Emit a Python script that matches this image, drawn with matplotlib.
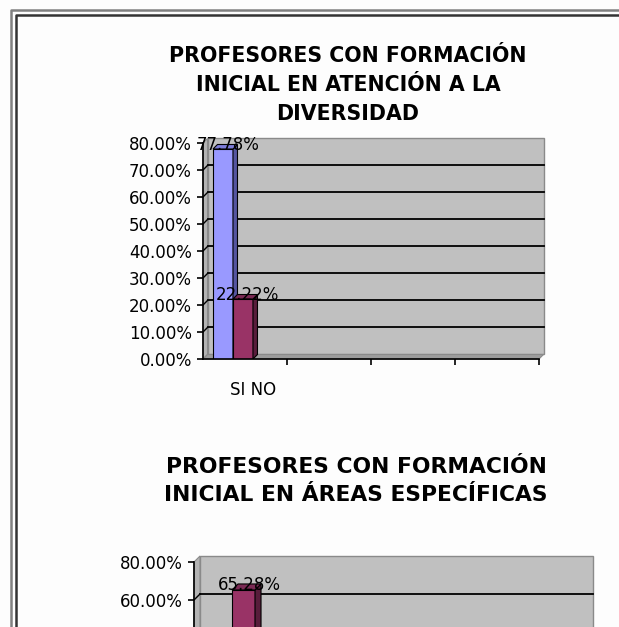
import matplotlib
matplotlib.use("Agg")
import matplotlib.pyplot as plt
from matplotlib.lines import Line2D
from matplotlib.patches import Polygon, Rectangle

categories = ["SI", "NO"]
diversidad = [77.78, 22.22]
areas = [34.72, 65.28]
title1 = "PROFESORES CON FORMACIÓN\nINICIAL EN ATENCIÓN A LA\nDIVERSIDAD"
title2 = "PROFESORES CON FORMACIÓN\nINICIAL EN ÁREAS ESPECÍFICAS"

fronts = ["#9999ff", "#993366"]
sides = ["#5555a0", "#581d3b"]
tops = ["#7c7cd8", "#7a2a54"]
wall = "#c0c0c0"

W, H = 619, 627
plt.rcParams["font.family"] = "DejaVu Sans"
fig = plt.figure(figsize=(W / 100, H / 100), dpi=100)
fig.patch.set_facecolor("#fdfdfd")


def px_axes(left, top, right, bottom):
    return fig.add_axes([left / W, 1 - bottom / H, (right - left) / W, (bottom - top) / H])


def chart3d(ax, vals, ymax, step, x0, bw, dpx, slots=4):
    pos = ax.get_position()
    dx = dpx * slots / (pos.width * W)
    dy = dpx * ymax / (pos.height * H)
    ax.set_xlim(0, slots)
    ax.set_ylim(0, ymax)
    ax.set_facecolor("none")

    # walls and floor
    ax.add_patch(Rectangle((dx, dy), slots, ymax, facecolor=wall, edgecolor="#8a8a8a",
                           lw=1, zorder=0, clip_on=False))
    ax.add_patch(Polygon([(0, 0), (dx, dy), (dx, ymax + dy), (0, ymax)], closed=True,
                         facecolor="#b4b4b4", edgecolor="#8a8a8a", lw=0.8, zorder=0, clip_on=False))
    ax.add_patch(Polygon([(0, 0), (slots, 0), (slots + dx, dy), (dx, dy)], closed=True,
                         facecolor="#9c9c9c", edgecolor="#8a8a8a", lw=0.8, zorder=1, clip_on=False))
    ticks = list(range(0, int(ymax) + 1, step))
    for t in ticks[1:-1]:
        ax.plot([dx, slots + dx], [t + dy, t + dy], color="black", lw=1.3, zorder=1, clip_on=False)
        ax.plot([0, dx], [t, t + dy], color="black", lw=1.0, zorder=1, clip_on=False)

    # bars
    for i, v in enumerate(vals):
        x = x0 + i * bw
        ax.bar(x, v, bw, align="edge", color=fronts[i], edgecolor="black", lw=0.8, zorder=3 + i)
        ax.add_patch(Polygon([(x + bw, 0), (x + bw + dx, dy), (x + bw + dx, v + dy), (x + bw, v)],
                             closed=True, facecolor=sides[i], edgecolor="black", lw=0.8, zorder=3 + i))
        ax.add_patch(Polygon([(x, v), (x + dx, v + dy), (x + bw + dx, v + dy), (x + bw, v)],
                             closed=True, facecolor=tops[i], edgecolor="black", lw=0.8, zorder=3 + i))
        ax.text(x + bw / 2 + dx / 2 + 0.03, v + dy * 0.8, f"{v:.2f}%", ha="center", va="center",
                fontsize=12, color="black", zorder=10, clip_on=False)

    for s in ["top", "right"]:
        ax.spines[s].set_visible(False)
    ax.spines["left"].set_linewidth(1.2)
    ax.spines["bottom"].set_linewidth(1.2)
    ax.spines["left"].set_zorder(6)
    ax.spines["bottom"].set_zorder(6)
    ax.set_yticks(ticks)
    ax.set_yticklabels([f"{t:.2f}%" for t in ticks])
    ax.tick_params(axis="y", direction="out", length=4, width=1.2, pad=4, labelsize=12)
    ax.set_xticks(range(1, slots + 1))
    ax.set_xticklabels([])
    ax.tick_params(axis="x", direction="out", length=4, width=1.2)
    ax.annotate(" ".join(categories), xy=(x0 + 2 * bw, 0), xytext=(0, -22),
                textcoords="offset points", ha="center", va="center", fontsize=12,
                annotation_clip=False)


ax1 = px_axes(203, 143, 539, 359)
chart3d(ax1, diversidad, 80, 10, 0.119, 0.238, 4.5)
fig.text(348 / W, 1 - 85 / H, title1, ha="center", va="center", fontsize=14.8,
         fontweight="bold", linespacing=1.55)

ax2 = px_axes(194, 562, 587, 714)
chart3d(ax2, areas, 80, 20, 0.153, 0.234, 6)
fig.text(356 / W, 1 - 481 / H, title2, ha="center", va="center", fontsize=15.7,
         fontweight="bold", linespacing=1.48)

# page frame
fig.add_artist(Line2D([10.5 / W, 10.5 / W, 1], [0, 1 - 9.5 / H, 1 - 9.5 / H],
                      transform=fig.transFigure, color="#808080", lw=1.8))
fig.add_artist(Line2D([15.5 / W, 15.5 / W, 1], [0, 1 - 14.5 / H, 1 - 14.5 / H],
                      transform=fig.transFigure, color="#333333", lw=1.8))

fig.savefig("out.png", dpi=100, facecolor=fig.get_facecolor())
